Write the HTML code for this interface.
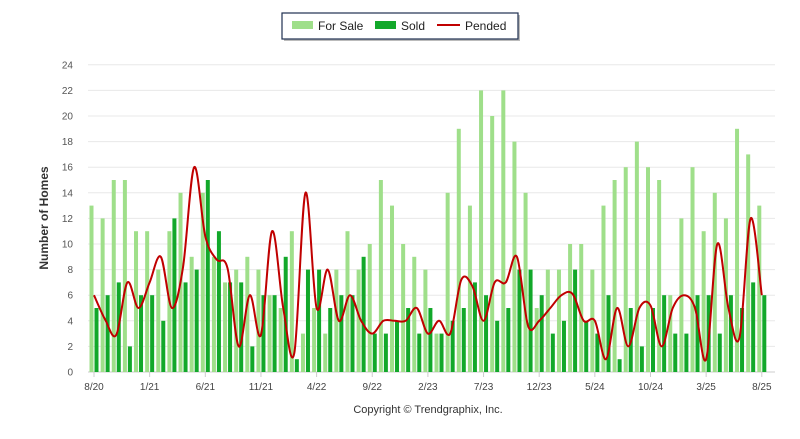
<!DOCTYPE html>
<html><head><meta charset="utf-8"><style>
body{margin:0;background:#fff;width:800px;height:434px;overflow:hidden;font-family:"Liberation Sans",sans-serif}
svg text{font-family:"Liberation Sans",sans-serif}
</style></head><body>
<svg id="chart" width="800" height="434" xmlns="http://www.w3.org/2000/svg">
<g>
<rect x="284" y="15" width="236" height="26" fill="#bbb"/>
<rect x="282" y="13" width="236" height="26" fill="#fff" stroke="#1f3050" stroke-width="1.2"/>
<rect x="292" y="21" width="21" height="8" fill="#9fdf8a"/>
<text x="318" y="30" font-size="12" fill="#222">For Sale</text>
<rect x="375" y="21" width="21" height="8" fill="#12a82a"/>
<text x="401" y="30" font-size="12" fill="#222">Sold</text>
<line x1="437" y1="25" x2="460" y2="25" stroke="#c00000" stroke-width="2"/>
<text x="465" y="30" font-size="12" fill="#222">Pended</text>
</g>
<g id="grid"></g>
<g id="bars"></g>
<path id="line" fill="none" stroke="#c00000" stroke-width="2"/>
<g id="xlab"></g>
<text transform="translate(48,218) rotate(-90)" text-anchor="middle" font-size="12" font-weight="bold" fill="#333">Number of Homes</text>
<text x="428" y="413" text-anchor="middle" font-size="11" fill="#333">Copyright © Trendgraphix, Inc.</text>
</svg>
<script>
const forSale=[13,12,15,15,11,11,8,11,14,9,14,9,7,8,9,8,6,5,11,3,5,3,8,11,8,10,15,13,10,9,8,3,14,19,13,22,20,22,18,14,5,8,8,10,10,8,13,15,16,18,16,15,6,12,16,11,14,12,19,17,13];
const sold=[5,6,7,2,6,6,4,12,7,8,15,11,7,7,2,6,6,9,1,8,8,5,6,6,9,3,3,4,5,3,5,3,4,5,7,6,4,5,8,8,6,3,4,8,4,3,6,1,5,2,5,6,3,3,6,6,3,6,5,7,6];
const pended=[6,4.1,2.9,7,5,7,9,5,8.2,16,10.6,8.8,8.1,2,6,2.9,11,5,1.5,14,5,8,4,6,4,3,4,4,4,5,3,4,3,7.2,6.7,4,7,7,9,3.6,4,5,6,6.1,4,4,1,5,2,5,5.2,2,5,6,5,1,10,5,2.7,12,6];
const xTicks=["8/20","1/21","6/21","11/21","4/22","9/22","2/23","7/23","12/23","5/24","10/24","3/25","8/25"];
const yTicks=[0,2,4,6,8,10,12,14,16,18,20,22,24];
const NS="http://www.w3.org/2000/svg";
const x=i=>94+11.13*i, y=v=>372-12.8*v;
const grid=document.getElementById('grid');
yTicks.forEach(t=>{
 const l=document.createElementNS(NS,'line');
 l.setAttribute('x1',88);l.setAttribute('x2',775);l.setAttribute('y1',y(t));l.setAttribute('y2',y(t));
 l.setAttribute('stroke',t===0?'#ccc':'#e8e8e8');
 
 
 grid.appendChild(l);
 const tx=document.createElementNS(NS,'text');
 tx.setAttribute('x',73);tx.setAttribute('y',y(t)+3.5);tx.setAttribute('text-anchor','end');tx.setAttribute('font-size','10');tx.setAttribute('fill','#555');
 tx.textContent=t;
 
 
 grid.appendChild(tx);
});
const bars=document.getElementById('bars');
forSale.forEach((v,i)=>{
 const r=document.createElementNS(NS,'rect');
 r.setAttribute('x',x(i)-4.5);r.setAttribute('width',4);r.setAttribute('y',y(v));r.setAttribute('height',12.8*v);r.setAttribute('fill','#9fdf8a');
 
 
 bars.appendChild(r);
});
sold.forEach((v,i)=>{
 const r=document.createElementNS(NS,'rect');
 r.setAttribute('x',x(i)+0.5);r.setAttribute('width',4);r.setAttribute('y',y(v));r.setAttribute('height',12.8*v);r.setAttribute('fill','#12a82a');
 
 
 bars.appendChild(r);
});
const pts=pended.map((v,i)=>[x(i),y(v)]);
let d='M'+pts[0][0]+','+pts[0][1];
for(let i=0;i<pts.length-1;i++){
 const p0=pts[Math.max(0,i-1)],p1=pts[i],p2=pts[i+1],p3=pts[Math.min(pts.length-1,i+2)];
 const k=1/6;
 d+=` C${p1[0]+(p2[0]-p0[0])*k},${p1[1]+(p2[1]-p0[1])*k} ${p2[0]-(p3[0]-p1[0])*k},${p2[1]-(p3[1]-p1[1])*k} ${p2[0]},${p2[1]}`;
}
document.getElementById('line').setAttribute('d',d);
const xl=document.getElementById('xlab');
xTicks.forEach((t,j)=>{
 const tx=document.createElementNS(NS,'text');
 tx.setAttribute('x',x(j*5));tx.setAttribute('y',390);tx.setAttribute('text-anchor','middle');tx.setAttribute('font-size','10');tx.setAttribute('fill','#444');
 tx.textContent=t;
 
 
 xl.appendChild(tx);
 const tk=document.createElementNS(NS,'line');
 tk.setAttribute('x1',x(j*5));tk.setAttribute('x2',x(j*5));tk.setAttribute('y1',372);tk.setAttribute('y2',377);tk.setAttribute('stroke','#ccc');
 
 
 xl.appendChild(tk);
});
</script>
</body></html>
